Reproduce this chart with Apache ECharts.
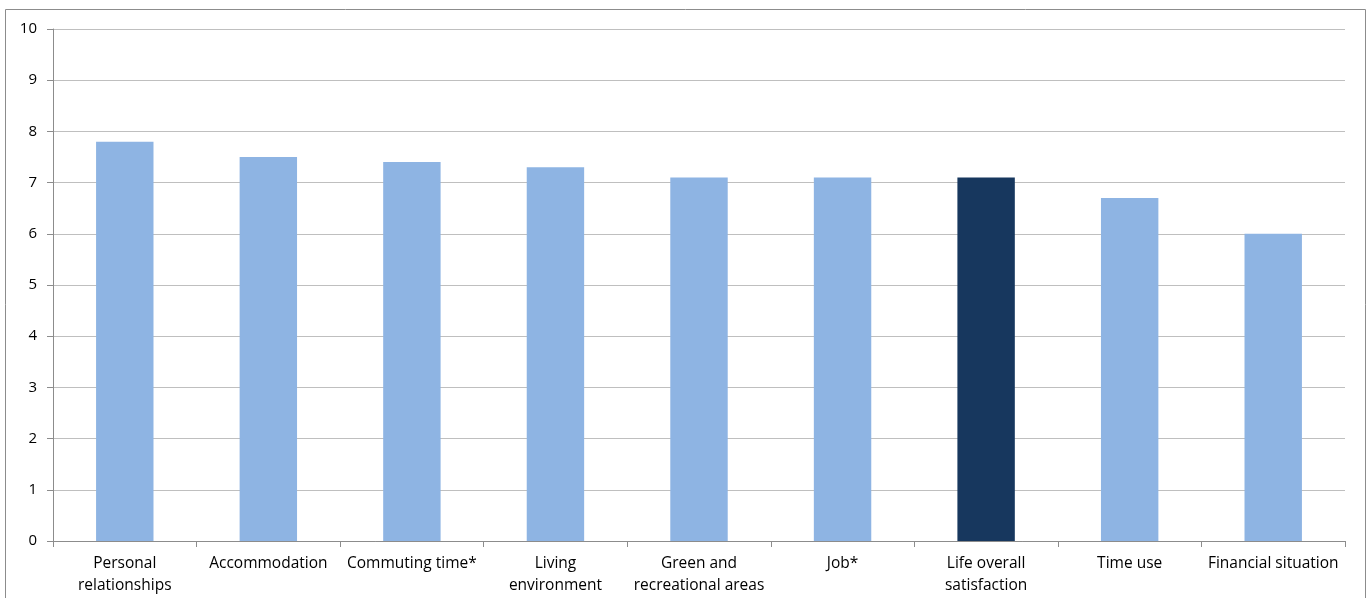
<!DOCTYPE html>
<html>
<head>
<meta charset="utf-8">
<script src="https://cdn.jsdelivr.net/npm/echarts@6/dist/echarts.min.js"></script>
<style>
  html, body { margin: 0; padding: 0; background: #fff; }
  #chart { width: 1368px; height: 598px; }
</style>
</head>
<body>
<div id="chart"></div>
<script>
// Satisfaction scores by life domain (scale 0-10)
const categories = [
  'Personal\nrelationships',
  'Accommodation',
  'Commuting time*',
  'Living\nenvironment',
  'Green and\nrecreational areas',
  'Job*',
  'Life overall\nsatisfaction',
  'Time use',
  'Financial situation'
];
const scores = [7.8, 7.5, 7.4, 7.3, 7.1, 7.1, 7.1, 6.7, 6.0];
const highlightIndex = 6; // overall satisfaction drawn in the darker shade
const yTicks = { min: 0, max: 10, interval: 1 };

const lightBlue = '#8EB4E3';
const darkBlue = '#17375E';
const fontFamily = 'Open Sans, Noto Sans, sans-serif';

const chart = echarts.init(document.getElementById('chart'), null, { renderer: 'canvas' });

chart.setOption({
  animation: false,
  backgroundColor: '#ffffff',
  graphic: [{
    type: 'rect',
    shape: { x: 5.5, y: 9.5, width: 1360, height: 640 },
    style: { fill: 'none', stroke: '#8c8c8c', lineWidth: 1 },
    silent: true
  }],
  grid: { left: 53, right: 23, top: 29, bottom: 57, containLabel: false },
  xAxis: {
    type: 'category',
    data: categories,
    axisLine: { lineStyle: { color: '#8c8c8c', width: 1 } },
    axisTick: { show: true, length: 6, alignWithLabel: false, lineStyle: { color: '#8c8c8c' } },
    axisLabel: {
      interval: 0,
      color: '#000',
      fontFamily: fontFamily,
      fontSize: 15.5,
      lineHeight: 22,
      margin: 12
    }
  },
  yAxis: {
    type: 'value',
    min: yTicks.min,
    max: yTicks.max,
    interval: yTicks.interval,
    axisLine: { show: true, lineStyle: { color: '#8c8c8c', width: 1 } },
    axisTick: { show: true, length: 6, lineStyle: { color: '#8c8c8c' } },
    splitLine: { show: true, lineStyle: { color: '#bfbfbf', width: 1 } },
    axisLabel: {
      color: '#000',
      fontFamily: fontFamily,
      fontSize: 15,
      margin: 16
    }
  },
  series: [{
    type: 'bar',
    data: scores.map((v, i) => ({
      value: v,
      itemStyle: { color: i === highlightIndex ? darkBlue : lightBlue }
    })),
    barCategoryGap: '60%'
  }]
});
</script>
</body>
</html>
